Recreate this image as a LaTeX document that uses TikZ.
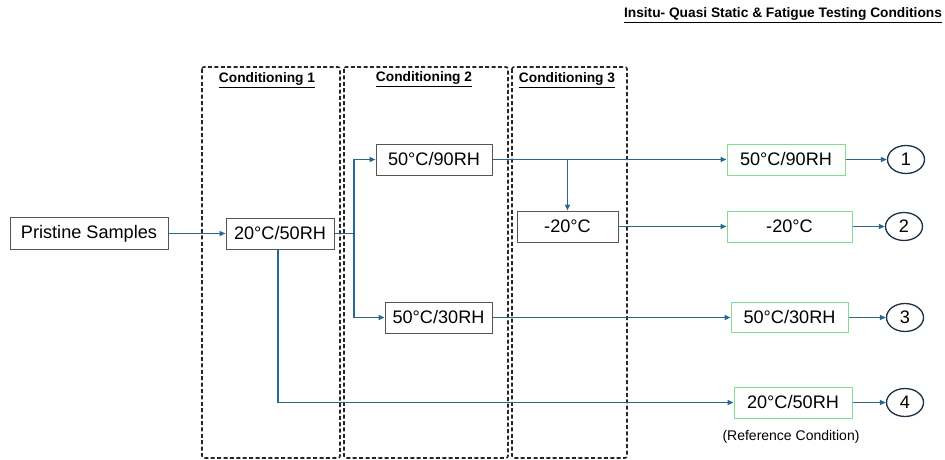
\documentclass[tikz,border=0pt]{standalone}
\usepackage{fontspec}
\setmainfont{Liberation Sans}
\usetikzlibrary{arrows.meta,shapes.geometric}
\newdimen\px \px=0.75pt
\definecolor{flow}{RGB}{40,104,142}
\definecolor{okgreen}{RGB}{128,222,140}
\definecolor{ringc}{RGB}{30,52,70}
\definecolor{boxgray}{RGB}{85,85,85}
\tikzset{
  box/.style={draw=boxgray, line width=0.75pt, inner sep=0pt, font=\fontsize{13.6pt}{15pt}\selectfont},
  gbox/.style={box, draw=okgreen},
  ring/.style={draw=ringc, ellipse, line width=1pt, minimum width=27.75pt, minimum height=21pt, inner sep=0pt,
               font=\fontsize{13.6pt}{15pt}\selectfont},
  stage/.style={draw=black!85, dash pattern=on 3pt off 1.8pt, line width=1.15pt, rounded corners=1.5pt},
  head/.style={font=\fontsize{10.3pt}{12pt}\selectfont\bfseries, inner sep=0pt},
  conn/.style={draw=flow, line width=1.1pt},
  arr/.style={conn, -{Triangle[length=4.5pt, width=3.75pt]}},
}
\begin{document}
\begin{tikzpicture}[x=1\px, y=-1\px]
\useasboundingbox (0,0) rectangle (945,460);

% title
\node[head] (title) at (783,15) {\underline{Insitu- Quasi Static \& Fatigue Testing Conditions}};

% conditioning stages
\draw[stage] (202,67) rectangle (340,458);
\draw[stage] (344,67) rectangle (508,458);
\draw[stage] (512,67) rectangle (627,458);
\node[head] (h1) at (267,80) {\underline{Conditioning 1}};
\node[head] (h2) at (424,79) {\underline{Conditioning 2}};
\node[head] (h3) at (567,80) {\underline{Conditioning 3}};

% condition boxes
\node[box, minimum width=118.5pt, minimum height=24pt] (pristine) at (89,233.5) {Pristine Samples};
\node[box, minimum width=81pt, minimum height=23.25pt] (c1) at (280,233.5) {20°C/50RH};
\node[box, minimum width=87pt, minimum height=23.25pt] (b90) at (434,159.5) {50°C/90RH};
\node[box, minimum width=80.25pt, minimum height=23.25pt] (b30) at (438.5,317.5) {50°C/30RH};
\node[box, minimum width=75.75pt, minimum height=23.25pt] (m20) at (567.5,226.5) {-20°C};

% final test conditions
\node[gbox, minimum width=88.5pt, minimum height=23.25pt] (g90) at (786,159.5) {50°C/90RH};
\node[gbox, minimum width=93.75pt, minimum height=23.25pt] (gm20) at (789.5,226.5) {-20°C};
\node[gbox, minimum width=87.75pt, minimum height=22.5pt] (g30) at (789.5,317.5) {50°C/30RH};
\node[gbox, minimum width=88.5pt, minimum height=23.25pt] (g50) at (793,402.5) {20°C/50RH};
\node[font=\fontsize{10.5pt}{12pt}\selectfont, inner sep=0pt] (refc) at (791,437) {(Reference Condition)};

\node[ring] (n1) at (906,159.5) {1};
\node[ring] (n2) at (904,226.5) {2};
\node[ring] (n3) at (905,317.5) {3};
\node[ring] (n4) at (905,402.5) {4};

% connectors
\coordinate (split) at (354,233.5);
\draw[arr] (pristine.east) -- (c1.west);
\draw[conn] (c1.east) -- (split);
\draw[arr] (split) |- (b90.west);
\draw[arr] (split) |- (b30.west);
\draw[arr] (b90.east) -- (g90.west);
\draw[arr] (b90.east -| m20.north) -- (m20.north);
\draw[arr] (m20.east) -- (gm20.west);
\draw[arr] (b30.east) -- (g30.west);
\draw[arr] ([xshift=-1.5pt]c1.south) |- (g50.west);

\draw[arr] (g90.east) -- (n1.west);
\draw[arr] (gm20.east) -- (n2.west);
\draw[arr] (g30.east) -- (n3.west);
\draw[arr] (g50.east) -- (n4.west);
\end{tikzpicture}
\end{document}
